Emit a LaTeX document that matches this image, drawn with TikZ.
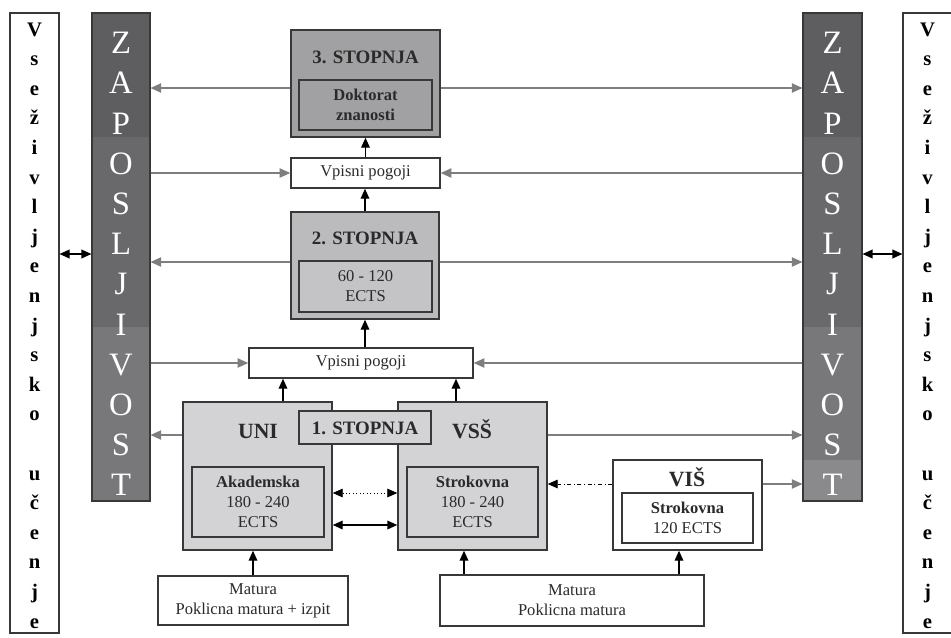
\documentclass[tikz,border=0pt]{standalone}
\usepackage{fontspec}
\setmainfont{Liberation Serif}
\usetikzlibrary{arrows.meta, calc}

\definecolor{barDark}{HTML}{5E5E60}
\definecolor{barMid}{HTML}{69696B}
\definecolor{barLow}{HTML}{78787A}
\definecolor{barT}{HTML}{8A8A8C}
\definecolor{grayA}{HTML}{A1A1A3}
\definecolor{grayB}{HTML}{BBBBBD}
\definecolor{grayBin}{HTML}{C4C4C6}
\definecolor{grayC}{HTML}{D3D3D5}
\definecolor{lineC}{HTML}{383838}
\definecolor{flowC}{HTML}{7E7E7E}
\definecolor{textC}{HTML}{2A2A2A}

\begin{document}
\begin{tikzpicture}[
        x=0.75pt, y=-0.75pt,
        box/.style={draw=lineC, line width=1.1pt, inner sep=0pt},
        bar/.style={draw=lineC, line width=0.8pt, inner sep=0pt},
        inbox/.style={box, align=center, text=textC, font=\fontsize{12.4}{15}\selectfont},
        title/.style={inner sep=0pt, text=textC, font=\fontsize{14.2}{16}\selectfont\bfseries, text height=9.4pt, text depth=0pt},
        bigtitle/.style={title, font=\fontsize{16.3}{18}\selectfont\bfseries, text height=10.8pt},
        bigletter/.style={inner sep=0pt, text=white, font=\fontsize{24.5}{24}\selectfont},
        lifeletter/.style={inner sep=0pt, anchor=base, font=\fontsize{15.5}{15}\selectfont\bfseries},
        arr/.style={-{Triangle[length=7.5pt, width=6.5pt]}, line width=1.1pt, black},
        darr/.style={{Triangle[length=7.5pt, width=6.5pt]}-{Triangle[length=7.5pt, width=6.5pt]}, line width=1.1pt, black},
        flow/.style={-{Triangle[length=8pt, width=7pt]}, line width=1pt, draw=flowC, fill=flowC}
    ]
        \useasboundingbox (0,0) rectangle (951,637);

        % Lifelong learning bars on both sides
        \node[bar, minimum width=36.75pt, minimum height=465pt] (lifeL) at (34.5,323) {};
        \node[bar, minimum width=36.75pt, minimum height=465pt] (lifeR) at (927.5,323) {};

        \foreach \c [count=\i from 0] in {V,s,e,ž,i,v,l,j,e,n,j,s,k,o} {
            \node[lifeletter] (lifeLa\i) at (34.5,36+29.6*\i) {\c};
            \node[lifeletter] (lifeRa\i) at (927.5,36+29.6*\i) {\c};
        }
        \foreach \c [count=\i from 15] in {u,č,e,n,j,e} {
            \node[lifeletter] (lifeLb\i) at (34.5,36+29.6*\i) {\c};
            \node[lifeletter] (lifeRb\i) at (927.5,36+29.6*\i) {\c};
        }

        % Employment bars with their shaded bands
        \fill[barDark] (92,13) rectangle (150,137);
        \fill[barMid] (92,137) rectangle (150,327);
        \fill[barLow] (92,327) rectangle (150,501);
        \fill[barDark] (803,13) rectangle (862,137);
        \fill[barMid] (803,137) rectangle (862,327);
        \fill[barLow] (803,327) rectangle (862,460);
        \fill[barT] (803,460) rectangle (862,501);
        \node[bar, minimum width=43.5pt, minimum height=366pt] (jobL) at (121,257) {};
        \node[bar, minimum width=44.25pt, minimum height=366pt] (jobR) at (832.5,257) {};

        \foreach \c [count=\i from 0] in {Z,A,P,O,S,L,J,I,V,O,S,T} {
            \node[bigletter] (jobLa\i) at (121,43+40.2*\i) {\c};
            \node[bigletter] (jobRa\i) at (832.5,43+40.2*\i) {\c};
        }

        % Third cycle
        \node[box, fill=grayA, minimum width=111.75pt, minimum height=80.25pt] (s3) at (365.5,83.5) {};
        \node[title] (s3T) at (365.5,57) {3. STOPNJA};
        \node[inbox, fill=grayA, minimum width=99.75pt, minimum height=37.5pt, font=\fontsize{12.4}{15}\selectfont\bfseries] (s3in) at (365.5,105) {Doktorat\\znanosti};
        \node[box, fill=white, minimum width=111.75pt, minimum height=22.5pt, text=textC, font=\fontsize{12.4}{15}\selectfont] (vp1) at (365.5,173) {Vpisni pogoji};

        % Second cycle
        \node[box, fill=grayB, minimum width=111pt, minimum height=80.25pt] (s2) at (365,265.5) {};
        \node[title] (s2T) at (365,238) {2. STOPNJA};
        \node[inbox, fill=grayBin, minimum width=99.75pt, minimum height=38.25pt] (s2in) at (365.5,286.5) {60 - 120\\ECTS};
        \node[box, fill=white, minimum width=168pt, minimum height=22.5pt, text=textC, font=\fontsize{12.4}{15}\selectfont] (vp2) at (361,363) {Vpisni pogoji};

        % First cycle: UNI and VSS
        \node[box, fill=grayC, minimum width=111.75pt, minimum height=111pt] (uni) at (257.5,476) {};
        \node[bigtitle] (uniT) at (258,431) {UNI};
        \node[inbox, fill=grayC, minimum width=99pt, minimum height=52.5pt] (uniIn) at (258,502) {\textbf{Akademska}\\180 - 240\\ECTS};

        \node[box, fill=grayC, minimum width=111.75pt, minimum height=111pt] (vss) at (472.5,476) {};
        \node[bigtitle] (vssT) at (472,431) {VSŠ};
        \node[inbox, fill=grayC, minimum width=98.25pt, minimum height=52.5pt] (vssIn) at (472.5,502) {\textbf{Strokovna}\\180 - 240\\ECTS};

        \node[box, fill=grayC, minimum width=99pt, minimum height=24.75pt] (s1) at (365,427.5) {};
        \node[title] (s1T) at (365,428) {1. STOPNJA};

        % Short cycle VIS
        \node[box, fill=white, minimum width=111.75pt, minimum height=67.5pt] (vis) at (687.5,505) {};
        \node[bigtitle] (visT) at (687,479) {VIŠ};
        \node[inbox, fill=white, minimum width=98.25pt, minimum height=37.5pt] (visIn) at (687.5,518) {\textbf{Strokovna}\\120 ECTS};

        % Entry conditions
        \node[inbox, fill=white, minimum width=142.5pt, minimum height=36.75pt] (mat1) at (253,600.5) {Matura\\Poklicna matura + izpit};
        \node[inbox, fill=white, minimum width=198pt, minimum height=38.25pt] (mat2) at (572,600.5) {Matura\\Poklicna matura};

        % Arrows up the ladder
        \coordinate (uniUp) at ($(uni.north)+(25.5,0)$);
        \coordinate (vssUp) at ($(vss.north)+(-16.5,0)$);
        \coordinate (vssDn) at ($(vss.south)+(-8.5,0)$);
        \coordinate (visDn) at ($(vis.south)+(-8.5,0)$);
        \draw[arr] (vp1.north) -- (vp1.north |- s3.south);
        \draw[arr] (s2.north) -- (s2.north |- vp1.south);
        \draw[arr] (vp2.north -| s2.south) -- (s2.south);
        \draw[arr] (uniUp) -- (uniUp |- vp2.south);
        \draw[arr] (vssUp) -- (vssUp |- vp2.south);
        \draw[arr] (mat1.north) -- (mat1.north |- uni.south);
        \draw[arr] (vssDn |- mat2.north) -- (vssDn);
        \draw[arr] (visDn |- mat2.north) -- (visDn);

        % Links between the first cycle programmes
        \coordinate (dotY) at ($(uni.east)+(0,17)$);
        \coordinate (solY) at ($(uni.east)+(0,49)$);
        \coordinate (visW) at ($(vis.west)+(0,-21)$);
        \draw[darr, line width=0.6pt, dotted] (dotY) -- (dotY -| vss.west);
        \draw[darr] (solY) -- (solY -| vss.west);
        \draw[arr, line width=0.7pt, dash dot] (visW) -- (visW -| vss.east);

        % Grey flows to and from employment
        \coordinate (s3L) at ($(s3.west)+(0,4.5)$);
        \coordinate (s3R) at ($(s3.east)+(0,4.5)$);
        \coordinate (s2L) at ($(s2.west)+(0,-3.5)$);
        \coordinate (s2R) at ($(s2.east)+(0,-3.5)$);
        \coordinate (uniL) at ($(uni.west)+(0,-41)$);
        \coordinate (vssR) at ($(vss.east)+(0,-41)$);
        \coordinate (visR) at ($(vis.east)+(0,-21)$);
        \draw[flow] (s3L) -- (s3L -| jobL.east);
        \draw[flow] (s3R) -- (s3R -| jobR.west);
        \draw[flow] (vp1.west -| jobL.east) -- (vp1.west);
        \draw[flow] (vp1.east -| jobR.west) -- (vp1.east);
        \draw[flow] (s2L) -- (s2L -| jobL.east);
        \draw[flow] (s2R) -- (s2R -| jobR.west);
        \draw[flow] (vp2.west -| jobL.east) -- (vp2.west);
        \draw[flow] (vp2.east -| jobR.west) -- (vp2.east);
        \draw[flow] (uniL) -- (uniL -| jobL.east);
        \draw[flow] (vssR) -- (vssR -| jobR.west);
        \draw[flow] (visR) -- (visR -| jobR.west);

        % Employment and lifelong learning
        \coordinate (lifeArrL) at ($(jobL.west)+(0,-3)$);
        \coordinate (lifeArrR) at ($(jobR.east)+(0,-3)$);
        \draw[darr] (lifeArrL -| lifeL.east) -- (lifeArrL);
        \draw[darr] (lifeArrR) -- (lifeArrR -| lifeR.west);

    \end{tikzpicture}
\end{document}
